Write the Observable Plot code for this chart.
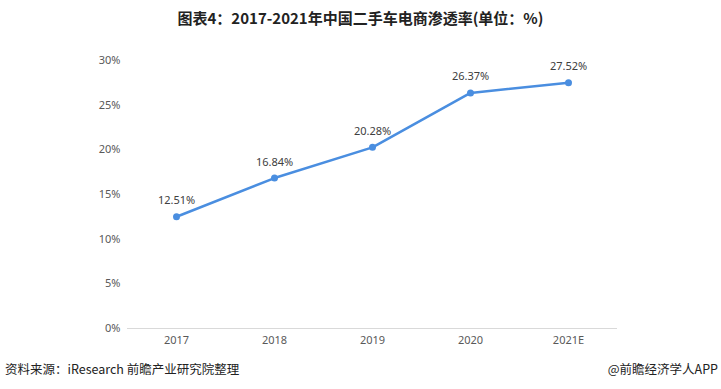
<!DOCTYPE html>
<html>
<head>
<meta charset="utf-8">
<script src="https://cdn.jsdelivr.net/npm/d3@7"></script>
<script src="https://cdn.jsdelivr.net/npm/@observablehq/plot@0.6"></script>
<style>
  body { margin: 0; background: #fff; font-family: "Noto Sans CJK SC", "Noto Sans", sans-serif; }
  #wrap { width: 721px; height: 389px; position: relative; overflow: hidden; }
  #title { position: absolute; top: 6px; left: 0; width: 721px; text-align: center; font-size: 15px; font-weight: bold; color: #222; line-height: 24px; }
  #chart { position: absolute; top: 36px; left: 0; }
  #src { position: absolute; top: 360px; left: 5px; font-size: 12.5px; color: #222; line-height: 18px; }
  #brand { position: absolute; top: 360px; right: 3px; font-size: 12.5px; color: #222; line-height: 18px; }
</style>
</head>
<body>
<div id="wrap">
  <div id="title">图表4：2017-2021年中国二手车电商渗透率(单位：%)</div>
  <div id="chart"></div>
  <div id="src">资料来源：iResearch 前瞻产业研究院整理</div>
  <div id="brand">@前瞻经济学人APP</div>
</div>
<script>
const years = ["2017", "2018", "2019", "2020", "2021E"];
const rates = [12.51, 16.84, 20.28, 26.37, 27.52];
const yTicks = [0, 5, 10, 15, 20, 25, 30];

const data = years.map((y, i) => ({year: y, rate: rates[i]}));

const chart = Plot.plot({
  width: 721,
  height: 316,
  marginLeft: 127,
  marginRight: 104,
  marginTop: 24,
  marginBottom: 24,
  style: {fontFamily: "'Noto Sans', 'DejaVu Sans', sans-serif", fontSize: "11px", color: "#595959", background: "transparent"},
  x: {type: "point", domain: years, padding: 0.5, label: null, tickSize: 0, tickPadding: 8},
  y: {domain: [0, 30], ticks: yTicks, tickFormat: d => d + "%", label: null, tickSize: 0, tickPadding: 7},
  marks: [
    Plot.ruleY([0], {stroke: "#d9d9d9", strokeWidth: 1}),
    Plot.line(data, {x: "year", y: "rate", stroke: "#4a8ee0", strokeWidth: 2.5}),
    Plot.dot(data, {x: "year", y: "rate", r: 3.5, fill: "#4a8ee0", stroke: "none"}),
    Plot.text(data, {x: "year", y: "rate", text: d => d.rate.toFixed(2) + "%", dy: -16, fill: "#404040", fontSize: 11})
  ]
});
document.getElementById("chart").appendChild(chart);
</script>
</body>
</html>
